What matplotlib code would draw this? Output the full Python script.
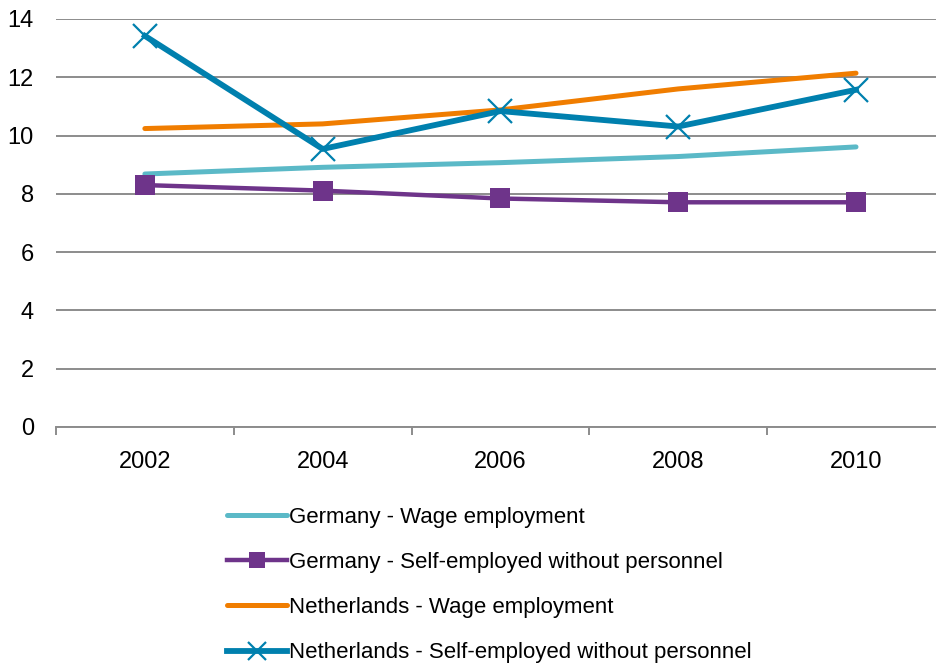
import matplotlib
matplotlib.use('Agg')
import matplotlib.pyplot as plt
import numpy as np

plt.rcParams['font.family'] = ['Liberation Sans', 'DejaVu Sans']

years = ['2002', '2004', '2006', '2008', '2010']
de_wage = [8.68, 8.91, 9.07, 9.28, 9.61]
de_self = [8.30, 8.11, 7.84, 7.71, 7.71]
nl_wage = [10.24, 10.40, 10.88, 11.60, 12.14]
nl_self = [13.42, 9.54, 10.84, 10.31, 11.57]

labels = ['Germany - Wage employment',
          'Germany - Self-employed without personnel',
          'Netherlands - Wage employment',
          'Netherlands - Self-employed without personnel']

fig = plt.figure(figsize=(9.36, 6.66), dpi=100)
# the plot area runs a little past the right edge of the figure
ax = fig.add_axes([0.0598, 0.3589, 0.9497, 0.6126])

x = np.arange(len(years))
ax.plot(x, de_wage, color='#5BB9C7', lw=3.6, solid_capstyle='round',
        label=labels[0])
ax.plot(x, de_self, color='#6E348A', lw=3.2, marker='s', markersize=14,
        markeredgewidth=0, label=labels[1])
ax.plot(x, nl_wage, color='#F07D00', lw=3.6, solid_capstyle='round',
        label=labels[2])
ax.plot(x, nl_self, color='#0080AE', lw=4.2, marker='x', markersize=17,
        markeredgewidth=1.6, label=labels[3])

ax.set_xlim(-0.5, len(years) - 0.5)
ax.set_ylim(0, 14)
ax.set_yticks(range(0, 15, 2))
ax.set_xticks(x)
ax.set_xticklabels(years)
ax.set_xticks(np.arange(-0.5, len(years), 1), minor=True)

ax.grid(axis='y', color='#8C8C8C', lw=1.4)
ax.set_axisbelow(True)
for s in ['top', 'right', 'left']:
    ax.spines[s].set_visible(False)
ax.spines['bottom'].set_color('#8C8C8C')
ax.spines['bottom'].set_linewidth(1.4)

ax.tick_params(axis='y', length=0, pad=16, labelsize=17)
ax.tick_params(axis='x', which='major', length=0, pad=17, labelsize=17)
ax.tick_params(axis='x', which='minor', length=6, width=1.4, color='#8C8C8C')

fig.legend(loc='upper left', bbox_to_anchor=(0.242, 0.239), frameon=False,
           fontsize=16, handlelength=2.7, handletextpad=0.1, markerscale=0.8,
           labelspacing=1.09, borderpad=0, borderaxespad=0)

fig.savefig('out.png', dpi=100)
